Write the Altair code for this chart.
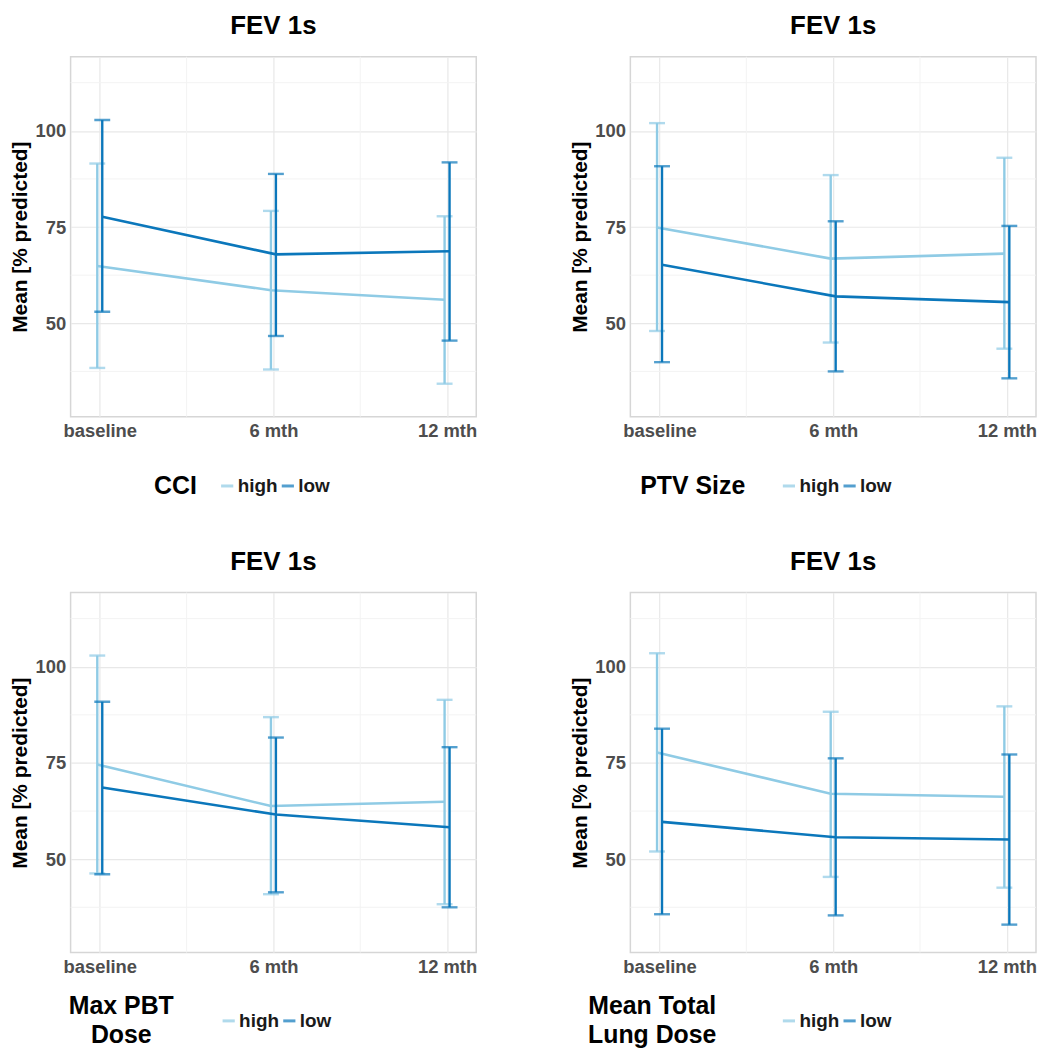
import altair as alt
import pandas as pd

FONT = "Liberation Sans"

timepoints = ["baseline", "6 mth", "12 mth"]
groups = ["high", "low"]
colors = ["#8fcbe5", "#0b77bb"]

plot_title = "FEV 1s"
y_title = "Mean [% predicted]"

# minor grid breaks (ggplot style)
x_minor = [1.5, 2.5]
y_minor = [37.5, 62.5, 87.5, 112.5]
y_major = [50, 75, 100]

# --- CCI
cci_high_mean = [64.9, 58.6, 56.1]
cci_high_lower = [38.4, 38.0, 34.3]
cci_high_upper = [91.5, 79.2, 77.8]
cci_low_mean = [77.7, 67.9, 68.7]
cci_low_lower = [53.0, 46.7, 45.5]
cci_low_upper = [102.8, 88.8, 91.8]

# --- PTV Size
ptv_high_mean = [74.9, 66.8, 68.1]
ptv_high_lower = [48.0, 45.0, 43.4]
ptv_high_upper = [102.0, 88.5, 93.0]
ptv_low_mean = [65.2, 57.0, 55.5]
ptv_low_lower = [39.9, 37.5, 35.7]
ptv_low_upper = [90.8, 76.5, 75.3]

# --- Max PBT Dose
pbt_high_mean = [74.6, 63.8, 64.9]
pbt_high_lower = [46.3, 40.9, 38.3]
pbt_high_upper = [102.9, 86.9, 91.4]
pbt_low_mean = [68.6, 61.6, 58.3]
pbt_low_lower = [46.1, 41.4, 37.5]
pbt_low_upper = [90.9, 81.6, 79.1]

# --- Mean Total Lung Dose
mld_high_mean = [77.7, 67.0, 66.2]
mld_high_lower = [52.0, 45.4, 42.6]
mld_high_upper = [103.5, 88.3, 89.7]
mld_low_mean = [59.7, 55.7, 55.1]
mld_low_lower = [35.7, 35.4, 33.0]
mld_low_upper = [83.9, 76.2, 77.2]

panels = [
    ("CCI", (cci_high_mean, cci_high_lower, cci_high_upper), (cci_low_mean, cci_low_lower, cci_low_upper)),
    ("PTV Size", (ptv_high_mean, ptv_high_lower, ptv_high_upper), (ptv_low_mean, ptv_low_lower, ptv_low_upper)),
    (["Max PBT", "Dose"], (pbt_high_mean, pbt_high_lower, pbt_high_upper), (pbt_low_mean, pbt_low_lower, pbt_low_upper)),
    (["Mean Total", "Lung Dose"], (mld_high_mean, mld_high_lower, mld_high_upper), (mld_low_mean, mld_low_lower, mld_low_upper)),
]

# legend placement per panel (layout only)
legend_pos = [
    dict(legendX=84, legendY=422, titlePadding=20, titleAlign="left"),
    dict(legendX=10, legendY=422, titlePadding=34, titleAlign="left"),
    dict(legendX=-2, legendY=421, titlePadding=-7.5, titleAlign="center"),
    dict(legendX=-43, legendY=421, titlePadding=-2, titleAlign="center"),
]

label_expr = "[" + ",".join(f"'{t}'" for t in timepoints) + "][datum.value - 1]"

xscale = alt.Scale(domain=[0.832, 3.168], nice=False, zero=False)
yscale = alt.Scale(domain=[25.75, 119.25], nice=False, zero=False)
cscale = alt.Scale(domain=groups, range=colors)


def make_panel(title, high, low, lp):
    rows = []
    for g, (m, lo, hi) in zip(groups, [high, low]):
        for i, t in enumerate(timepoints):
            rows.append({"t": i + 1, "time": t, "group": g, "mean": m[i], "lower": lo[i], "upper": hi[i]})
    df = pd.DataFrame(rows)

    legend = alt.Legend(
        orient="none", direction="horizontal", title=title, titleOrient="left",
        titleFont=FONT, titleFontSize=25, titleFontWeight="bold", titleColor="black",
        titleBaseline="middle", titleLineHeight=29,
        labelFont=FONT, labelFontSize=19, labelFontWeight="bold", labelColor="#1a1a1a",
        symbolType="stroke", symbolSize=150, symbolStrokeWidth=3,
        labelOffset=1, columnPadding=-7, padding=0, **lp,
    )

    xaxis = alt.Axis(values=[1, 2, 3], labelExpr=label_expr, title=None)
    yaxis = alt.Axis(values=y_major, title=y_title)

    gx = alt.Chart(pd.DataFrame({"t": x_minor})).mark_rule(color="#f3f3f3", strokeWidth=1).encode(
        x=alt.X("t:Q", scale=xscale, axis=xaxis))
    gy = alt.Chart(pd.DataFrame({"mean": y_minor})).mark_rule(color="#f3f3f3", strokeWidth=1).encode(
        y=alt.Y("mean:Q", scale=yscale, axis=yaxis))

    layers = [gx, gy]
    for g, off in zip(groups, [-2.5, 2.5]):
        base = alt.Chart(df).transform_filter(alt.datum.group == g)
        color = alt.Color("group:N", scale=cscale, legend=legend)
        x = alt.X("t:Q", scale=xscale, axis=xaxis)
        line = base.mark_line(strokeWidth=2.6, xOffset=off).encode(
            x=x, y=alt.Y("mean:Q", scale=yscale, axis=yaxis), color=color)
        stem = base.mark_rule(strokeWidth=2.4, xOffset=off).encode(
            x=x, y=alt.Y("lower:Q", scale=yscale, axis=yaxis), y2="upper:Q", color=color)
        cap_lo = base.mark_tick(orient="horizontal", size=16, thickness=2.4, xOffset=off).encode(
            x=x, y=alt.Y("lower:Q", scale=yscale, axis=yaxis), color=color)
        cap_hi = base.mark_tick(orient="horizontal", size=16, thickness=2.4, xOffset=off).encode(
            x=x, y=alt.Y("upper:Q", scale=yscale, axis=yaxis), color=color)
        layers += [line, stem, cap_lo, cap_hi]

    return alt.layer(*layers).properties(
        width=408, height=362,
        title=alt.TitleParams(plot_title, font=FONT, fontSize=26, fontWeight="bold", color="black",
                              anchor="middle", frame="group", offset=17),
    )


charts = [make_panel(t, h, l, lp) for (t, h, l), lp in zip(panels, legend_pos)]

chart = alt.concat(*charts, columns=2, spacing={"column": 91, "row": 48}).resolve_scale(
    color="independent"
).properties(
    padding={"left": 9, "top": 9, "right": 0, "bottom": 0},
    background="white",
).configure_view(
    stroke="#d6d6d6", strokeWidth=1.5
).configure_axis(
    labelFont=FONT, labelFontSize=18.5, labelFontWeight="bold", labelColor="#4d4d4d",
    titleFont=FONT, titleFontSize=21, titleFontWeight="bold", titleColor="black",
    ticks=False, domain=False, gridColor="#e8e8e8", gridWidth=1.2,
    labelPadding=5, titlePadding=4, labelFlush=False, labelOverlap=False,
)

chart.save("out.html", embed_options={"renderer": "svg", "actions": False})
